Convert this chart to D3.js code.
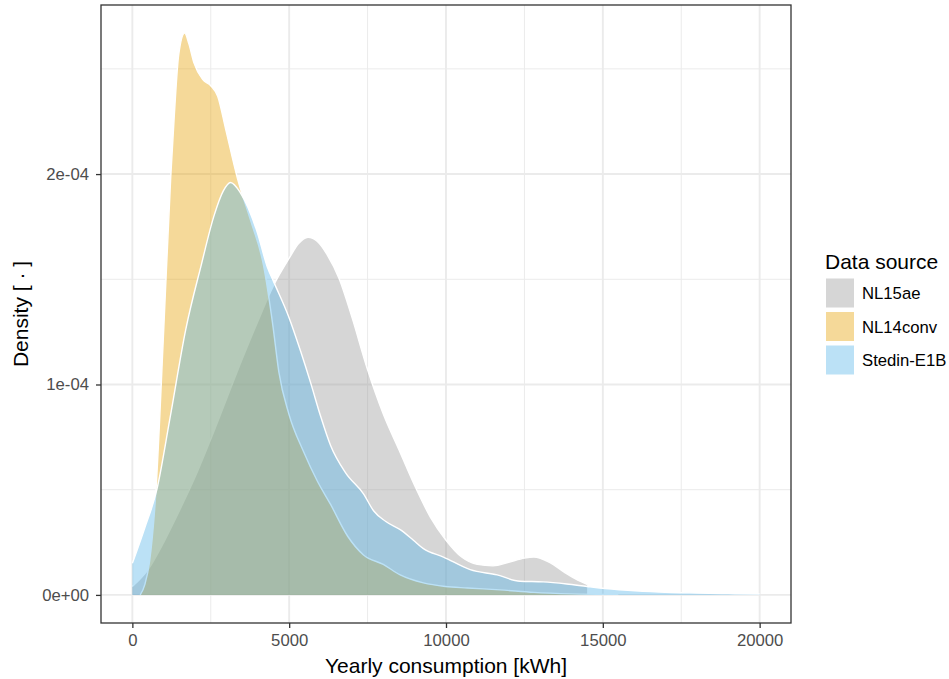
<!DOCTYPE html>
<html>
<head>
<meta charset="utf-8">
<script src="https://cdn.jsdelivr.net/npm/d3@7"></script>
<style>
  body { margin: 0; background: #ffffff; }
  text { font-family: "Liberation Sans", Arial, sans-serif; }
</style>
</head>
<body>
<svg id="chart" width="949" height="679"></svg>
<script>
// Data sources, in drawing order
const sources = ["NL15ae", "NL14conv", "Stedin-E1B"];
const fills = ["#999999", "#E69F00", "#56B4E9"];

// Estimated density curves: [yearly consumption kWh, density in units of 1e-4]
const nl15ae = [
  [0, 0.04], [500, 0.12], [1000, 0.25], [1500, 0.40], [2000, 0.56], [2500, 0.74],
  [3000, 0.93], [3500, 1.12], [4000, 1.30], [4500, 1.47], [5000, 1.60], [5300, 1.67],
  [5600, 1.70], [5900, 1.68], [6200, 1.62], [6600, 1.50], [7000, 1.32], [7500, 1.07],
  [8000, 0.86], [8500, 0.69], [9000, 0.52], [9500, 0.37], [10000, 0.26], [10500, 0.18],
  [11000, 0.145], [11500, 0.138], [12000, 0.155], [12500, 0.175], [12800, 0.18],
  [13300, 0.155], [13800, 0.105], [14200, 0.07], [14500, 0.05]
];
const nl14conv = [
  [250, 0.0], [400, 0.05], [550, 0.16], [750, 0.49], [1000, 1.26], [1225, 1.99],
  [1330, 2.26], [1480, 2.57], [1670, 2.67], [1800, 2.62], [1960, 2.53], [2240, 2.45],
  [2500, 2.42], [2720, 2.37], [2980, 2.21], [3350, 1.98], [3770, 1.78], [4190, 1.56],
  [4480, 1.28], [4670, 1.06], [4990, 0.86], [5460, 0.68], [5900, 0.54], [6320, 0.43],
  [6860, 0.28], [7370, 0.19], [8000, 0.145], [8540, 0.095], [9280, 0.057], [9980, 0.04],
  [10680, 0.033], [11730, 0.024], [12800, 0.012], [14000, 0.005], [15500, 0.002]
];
const stedinE1B = [
  [0, 0.15], [400, 0.32], [780, 0.50], [1200, 0.84], [1700, 1.26], [2200, 1.57],
  [2600, 1.80], [2900, 1.92], [3130, 1.96], [3450, 1.91], [3990, 1.72], [4300, 1.56],
  [4500, 1.49], [4990, 1.32], [5360, 1.16], [5680, 1.01], [6000, 0.85], [6320, 0.71],
  [6800, 0.58], [7370, 0.48], [7690, 0.40], [8070, 0.35], [8540, 0.31], [8960, 0.26],
  [9280, 0.22], [9920, 0.18], [10770, 0.12], [11630, 0.095], [12360, 0.065],
  [13100, 0.062], [13850, 0.052], [14500, 0.04], [14900, 0.033], [15800, 0.022],
  [16800, 0.014], [18000, 0.009], [19000, 0.006], [20000, 0.004]
];
const seriesValues = [nl15ae, nl14conv, stedinE1B];

// Axis ticks
const xTicks = [0, 5000, 10000, 15000, 20000];
const xMinor = [2500, 7500, 12500, 17500];
const yTicks = [0, 1e-4, 2e-4];
const yTickLabels = ["0e+00", "1e-04", "2e-04"];
const yMinor = [0.5e-4, 1.5e-4, 2.5e-4];

const svg = d3.select("#chart");
const panel = { left: 101, top: 5, right: 791, bottom: 623 };

const x = d3.scaleLinear().domain([-1000, 21000]).range([panel.left, panel.right]);
const y = d3.scaleLinear().domain([-0.1335e-4, 2.8035e-4]).range([panel.bottom, panel.top]);

svg.append("rect").attr("width", 949).attr("height", 679).attr("fill", "#ffffff");

svg.append("clipPath").attr("id", "panel-clip")
  .append("rect")
  .attr("x", panel.left).attr("y", panel.top)
  .attr("width", panel.right - panel.left).attr("height", panel.bottom - panel.top);

// Grid lines
const grid = svg.append("g").attr("stroke", "#ebebeb").attr("fill", "none");
xMinor.forEach(v => grid.append("line")
  .attr("x1", x(v)).attr("x2", x(v)).attr("y1", panel.top).attr("y2", panel.bottom)
  .attr("stroke-width", 1));
yMinor.forEach(v => grid.append("line")
  .attr("y1", y(v)).attr("y2", y(v)).attr("x1", panel.left).attr("x2", panel.right)
  .attr("stroke-width", 1));
xTicks.forEach(v => grid.append("line")
  .attr("x1", x(v)).attr("x2", x(v)).attr("y1", panel.top).attr("y2", panel.bottom)
  .attr("stroke-width", 1.9));
yTicks.forEach(v => grid.append("line")
  .attr("y1", y(v)).attr("y2", y(v)).attr("x1", panel.left).attr("x2", panel.right)
  .attr("stroke-width", 1.9));

// Density areas: translucent fill, white outline along the upper edge only
const area = d3.area()
  .x(d => x(d[0]))
  .y0(y(0))
  .y1(d => y(d[1] * 1e-4))
  .curve(d3.curveMonotoneX);
const upper = d3.line()
  .x(d => x(d[0]))
  .y(d => y(d[1] * 1e-4))
  .curve(d3.curveMonotoneX);

const layers = svg.append("g").attr("clip-path", "url(#panel-clip)");
seriesValues.forEach((vals, i) => {
  layers.append("path")
    .attr("d", area(vals))
    .attr("fill", fills[i])
    .attr("fill-opacity", 0.4)
    .attr("stroke", "none");
  layers.append("path")
    .attr("d", upper(vals))
    .attr("fill", "none")
    .attr("stroke", "#ffffff")
    .attr("stroke-width", 1.4)
    .attr("stroke-linejoin", "round");
});

// Panel border
svg.append("rect")
  .attr("x", panel.left).attr("y", panel.top)
  .attr("width", panel.right - panel.left).attr("height", panel.bottom - panel.top)
  .attr("fill", "none").attr("stroke", "#333333").attr("stroke-width", 1.3);

// Axes
const xAxis = svg.append("g")
  .attr("transform", `translate(0,${panel.bottom})`)
  .call(d3.axisBottom(x).tickValues(xTicks).tickFormat(d3.format("d")).tickSize(5).tickPadding(6));
const yAxis = svg.append("g")
  .attr("transform", `translate(${panel.left},0)`)
  .call(d3.axisLeft(y).tickValues(yTicks).tickFormat((d, i) => yTickLabels[i]).tickSize(5).tickPadding(7));
[xAxis, yAxis].forEach(g => {
  g.select(".domain").remove();
  g.selectAll(".tick line").attr("stroke", "#333333").attr("stroke-width", 1.3);
  g.selectAll(".tick text")
    .attr("fill", "#4d4d4d")
    .style("font-size", "16.7px")
    .style("font-family", "'Liberation Sans', Arial, sans-serif");
});

// Axis titles
svg.append("text")
  .attr("x", (panel.left + panel.right) / 2).attr("y", 673)
  .attr("text-anchor", "middle")
  .style("font-size", "21px").attr("fill", "#000000")
  .text("Yearly consumption [kWh]");
svg.append("text")
  .attr("transform", `translate(27.5,${(panel.top + panel.bottom) / 2}) rotate(-90)`)
  .attr("text-anchor", "middle")
  .style("font-size", "21px").attr("fill", "#000000")
  .text("Density [ · ]");

// Legend
const legend = svg.append("g");
legend.append("text")
  .attr("x", 825).attr("y", 269)
  .style("font-size", "21px").attr("fill", "#000000")
  .text("Data source");
sources.forEach((s, i) => {
  const top = 277 + i * 33.5;
  legend.append("rect")
    .attr("x", 824.5).attr("y", top)
    .attr("width", 31).attr("height", 32)
    .attr("fill", "#ffffff");
  legend.append("rect")
    .attr("x", 826).attr("y", top + 1.5)
    .attr("width", 28).attr("height", 29)
    .attr("fill", fills[i]).attr("fill-opacity", 0.4);
  legend.append("text")
    .attr("x", 862).attr("y", top + 16.5)
    .attr("dy", "0.35em")
    .style("font-size", "16.7px").attr("fill", "#000000")
    .text(s);
});
</script>
</body>
</html>
